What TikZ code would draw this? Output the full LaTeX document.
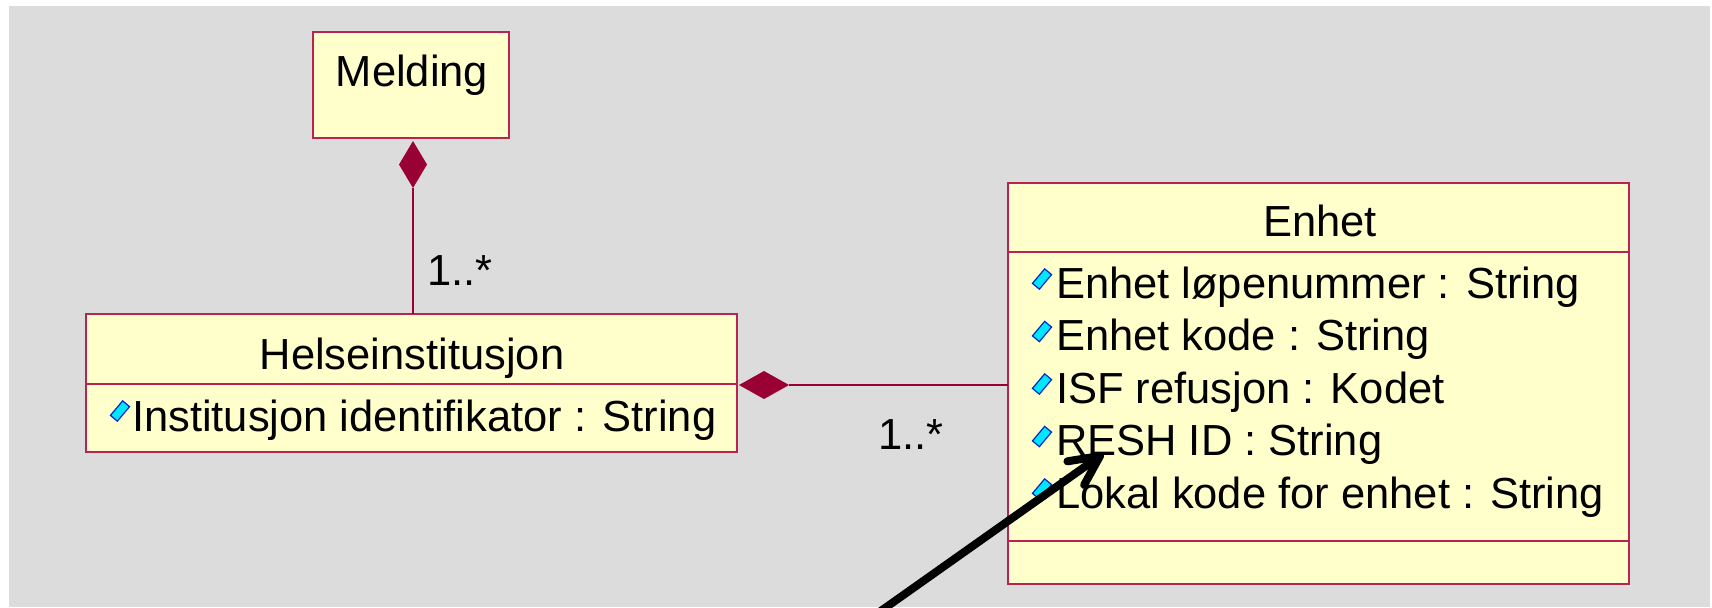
\documentclass[tikz,border=0pt]{standalone}
\usepackage{fontspec}
\setmainfont{Liberation Sans}
\usetikzlibrary{shapes.geometric,calc}
\definecolor{bggray}{RGB}{220,220,220}
\definecolor{boxfill}{RGB}{255,255,204}
\definecolor{boxline}{RGB}{185,35,80}
\definecolor{assoc}{RGB}{153,0,51}
\definecolor{iconfill}{RGB}{0,230,255}
\definecolor{iconline}{RGB}{0,40,200}
\begin{document}
\begin{tikzpicture}[x=0.5pt,y=-0.5pt,
 classbox/.style={draw=boxline,fill=boxfill,line width=0.7pt,inner sep=0pt,outer sep=0pt,anchor=north west},
 umltext/.style={inner sep=0pt,outer sep=0pt,font=\fontsize{21.75pt}{26pt}\selectfont},
 title/.style={umltext,anchor=base},
 attr/.style={umltext,anchor=base west},
 mult/.style={umltext,anchor=base west},
 compdiamond/.style={diamond,fill=assoc,draw=none,inner sep=0pt,outer sep=0pt},
 assocline/.style={draw=assoc,line width=0.6pt},
 divider/.style={draw=boxline,line width=0.7pt},
 pointer/.style={black,line width=4pt,line cap=round,line join=round},
 attricon/.pic={\path[fill=iconfill,draw=iconline,line width=0.6pt,rotate=50] (-9.5,-4.5) rectangle (9.5,4.5);}
]
\useasboundingbox (0,0) rectangle (1712,607);
\fill[bggray] (9,6) rectangle (1710,607);

% Melding
\node[classbox,minimum width=98pt,minimum height=53pt] (melding) at (313,32) {};
\node[title] (meldingname) at (412,86) {Melding};

% Helseinstitusjon
\node[classbox,minimum width=325.5pt,minimum height=69pt] (helse) at (86,314) {};
\draw[divider] (helse.west |- 0,384) -- (helse.east |- 0,384);
\node[title] (helsename) at (412,369) {Helseinstitusjon};
\pic at (120,411) {attricon};
\node[attr] (helseattr) at (132,431) {Institusjon identifikator : String};

% Enhet
\node[classbox,minimum width=310.5pt,minimum height=200.5pt] (enhet) at (1008,183) {};
\draw[divider] (enhet.west |- 0,252) -- (enhet.east |- 0,252);
\draw[divider] (enhet.west |- 0,541) -- (enhet.east |- 0,541);
\node[title] (enhetname) at (1320,236) {Enhet};
\foreach \yy/\nm/\txt in {298/ea/{Enhet løpenummer : String},
                          350.5/eb/{Enhet kode : String},
                          403/ec/{ISF refusjon : Kodet},
                          455.5/ed/{RESH ID : String},
                          508/ee/{Lokal kode for enhet : String}}{
  \pic at (1042,\yy-19) {attricon};
  \node[attr] (\nm) at (1056,\yy) {\txt};
}

% Composition Melding - Helseinstitusjon
\node[compdiamond,minimum width=14pt,minimum height=23.5pt] (d1) at (413,164.5) {};
\draw[assocline] (d1.south) -- (d1.south |- helse.north);
\node[mult] (m1) at (427,285) {1..*};

% Composition Helseinstitusjon - Enhet
\node[compdiamond,minimum width=25pt,minimum height=14pt] (d2) at (764,385) {};
\draw[assocline] (d2.east) -- (d2.east -| enhet.west);
\node[mult] (m2) at (878,449) {1..*};

% Pointer arrow
\coordinate (ptail) at (844,637);
\coordinate (ptip) at (1100,456);
\begin{scope}
\clip (0,0) rectangle (1712,607);
\draw[pointer] (ptail) -- (ptip);
\draw[pointer] ($(ptip)!16.5pt!26:(ptail)$) -- (ptip) -- ($(ptip)!16.5pt!-26:(ptail)$);
\end{scope}
\end{tikzpicture}
\end{document}
